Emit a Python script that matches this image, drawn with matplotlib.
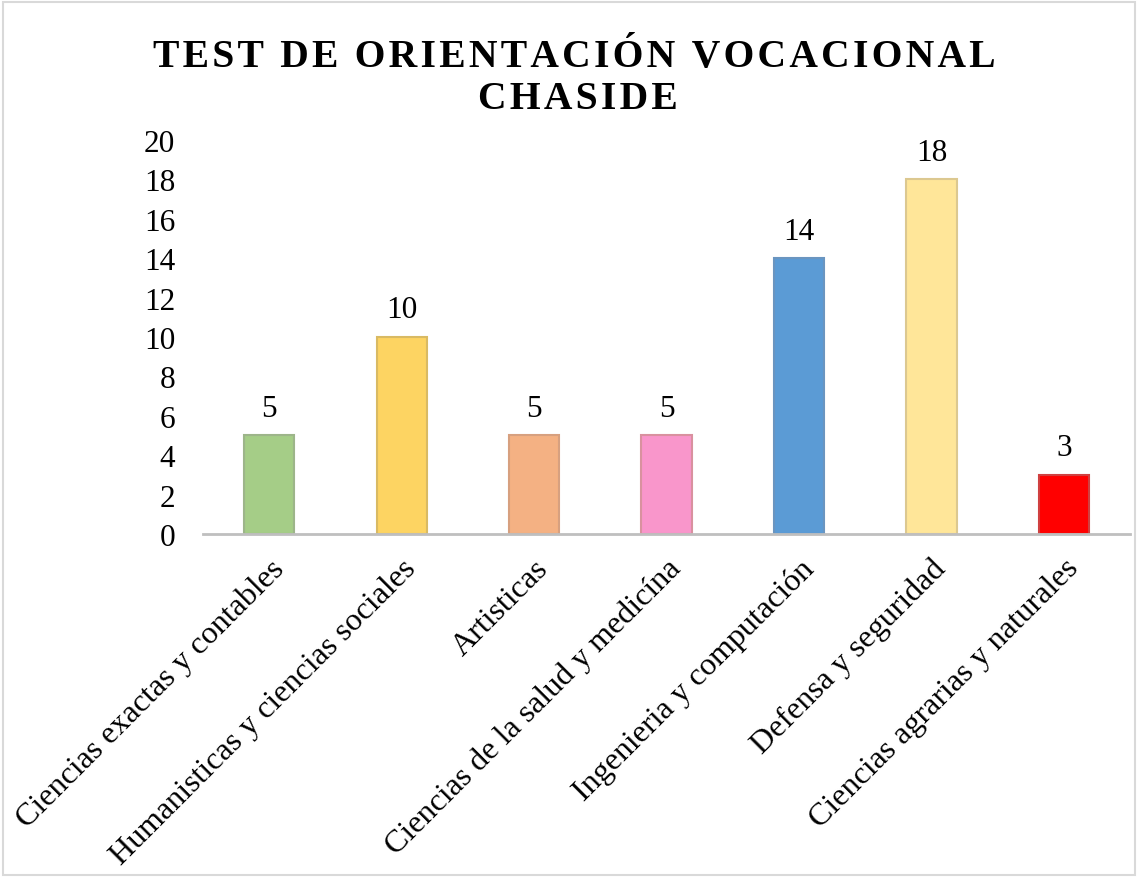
import matplotlib.pyplot as plt
from matplotlib.patches import Rectangle

categories = [
    "Ciencias exactas y contables",
    "Humanisticas y ciencias sociales",
    "Artisticas",
    "Ciencias de la salud y medicína",
    "Ingenieria y computación",
    "Defensa y seguridad",
    "Ciencias agrarias y naturales",
]
values = [5, 10, 5, 5, 14, 18, 3]
colors = ["#A5CD87", "#FDD462", "#F4B183", "#F996CB", "#5B9BD5", "#FFE699", "#FF0000"]
edges = ["#9DB58A", "#D9BA63", "#D7A07F", "#D9919F", "#6A95C0", "#DCC890", "#D04040"]
yticks = list(range(0, 21, 2))

plt.rcParams["font.family"] = ["Liberation Serif", "DejaVu Serif"]

fig = plt.figure(figsize=(11.38, 8.79), dpi=100)
fig.patches.append(Rectangle((0.003, 0.003), 0.994, 0.994, transform=fig.transFigure,
                             fill=False, edgecolor="#D9D9D9", linewidth=1.5))

ax = fig.add_axes([0.1784, 0.3914, 0.8146, 0.4482])
x = list(range(len(categories)))
ax.bar(x, values, width=0.38, color=colors, edgecolor=edges, linewidth=1.5, zorder=2)
for xi, v in zip(x, values):
    ax.annotate(str(v), (xi, v), xytext=(0, 9), textcoords="offset points",
                ha="center", va="bottom", fontsize=22.5)

ax.set_xlim(-0.5, len(categories) - 0.5)
ax.set_ylim(0, 20)
ax.set_yticks(yticks)
ax.set_yticklabels([str(t) for t in yticks], fontsize=22.5)
ax.set_xticks(x)
ax.set_xticklabels(categories, rotation=45, ha="right", va="top",
                   rotation_mode="anchor", fontsize=23)
ax.tick_params(axis="both", length=0)
ax.tick_params(axis="y", pad=20)
ax.tick_params(axis="x", pad=14)
for s in ("top", "right", "left"):
    ax.spines[s].set_visible(False)
ax.spines["bottom"].set_color("#BFBFBF")
ax.spines["bottom"].set_linewidth(2)

def spaced(s):
    return "\u200a".join(s)

fig.text(0.505, 0.935, spaced("TEST DE ORIENTACIÓN VOCACIONAL"), ha="center", va="center",
         fontsize=28.5, fontweight="bold")
fig.text(0.508, 0.887, spaced("CHASIDE"), ha="center", va="center",
         fontsize=28.5, fontweight="bold")

fig.savefig("out.png", dpi=100)
